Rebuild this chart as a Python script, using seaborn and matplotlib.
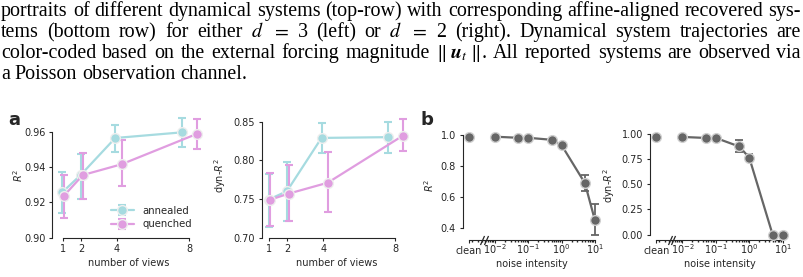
import matplotlib
matplotlib.use("Agg")
import matplotlib.pyplot as plt
import matplotlib.transforms as mtransforms
import numpy as np
import seaborn as sns

# -----------------------------
# data
# -----------------------------
caption_lines = [
    "portraits of different dynamical systems (top-row) with corresponding affine-aligned recovered sys-",
    "tems (bottom row) for either $d$ $=$ 3 (left) or $d$ $=$ 2 (right).  Dynamical system trajectories are",
    r"color-coded based on the external forcing magnitude $\|\;\boldsymbol{u}_t\;\|$. All reported systems are observed via",
    "a Poisson observation channel.",
]

views = [1, 2, 4, 8]
# small horizontal jitter used in the original so the two series don't overlap
jitter_annealed = [-0.04, -0.02, -0.1, -0.4]
jitter_quenched = [0.05, 0.1, 0.25, 0.42]

r2_annealed = [0.9256, 0.9354, 0.9564, 0.9596]
r2_annealed_lo = [0.914, 0.922, 0.9487, 0.9513]
r2_annealed_hi = [0.937, 0.9474, 0.964, 0.9678]
r2_quenched = [0.9236, 0.9354, 0.9415, 0.9587]
r2_quenched_lo = [0.9113, 0.922, 0.929, 0.950]
r2_quenched_hi = [0.9354, 0.948, 0.955, 0.9669]

dyn_annealed = [0.749, 0.760, 0.829, 0.830]
dyn_annealed_lo = [0.713, 0.721, 0.809, 0.810]
dyn_annealed_hi = [0.782, 0.798, 0.848, 0.849]
dyn_quenched = [0.749, 0.757, 0.771, 0.832]
dyn_quenched_lo = [0.715, 0.722, 0.733, 0.812]
dyn_quenched_hi = [0.783, 0.794, 0.811, 0.853]

noise = [0.01, 0.05, 0.1, 0.5, 1, 5, 10]
clean_pos = 10 ** -2.78  # where the "clean" condition sits on the log axis
break_pos = 10 ** -2.33  # axis break mark between clean and noise levels

r2_clean = 0.99
r2_noise = [0.99, 0.983, 0.983, 0.97, 0.935, 0.69, 0.45]
r2_noise_lo = [0.985, 0.978, 0.978, 0.962, 0.925, 0.64, 0.357]
r2_noise_hi = [0.995, 0.988, 0.988, 0.978, 0.945, 0.74, 0.552]

dyn_clean = 0.97
dyn_noise = [0.97, 0.96, 0.96, 0.875, 0.765, 0.0, 0.0]
dyn_noise_lo = [0.96, 0.95, 0.95, 0.825, 0.73, 0.0, 0.0]
dyn_noise_hi = [0.98, 0.97, 0.97, 0.935, 0.805, 0.0, 0.0]

c_annealed = "#a6dbe0"
c_quenched = "#e09de0"
c_noise = "#666666"

# -----------------------------
# style
# -----------------------------
sns.set_theme(style="ticks")
plt.rcParams.update({
    "font.family": ["DejaVu Sans"],
    "font.size": 7,
    "axes.labelsize": 7,
    "xtick.labelsize": 7,
    "ytick.labelsize": 7,
    "xtick.major.size": 2.4,
    "ytick.major.size": 2.4,
    "xtick.minor.size": 1.5,
    "xtick.major.pad": 2.5,
    "ytick.major.pad": 2.5,
    "xtick.major.width": 0.8,
    "ytick.major.width": 0.8,
    "axes.linewidth": 0.8,
    "axes.edgecolor": "0.15",
})

W, H = 804, 277
fig = plt.figure(figsize=(W / 100, H / 100), dpi=100)


def px_axes(left, top, right, bottom):
    return fig.add_axes([left / W, 1 - bottom / H, (right - left) / W, (bottom - top) / H])


ax_a1 = px_axes(52.5, 114, 204.5, 237.5)
ax_a2 = px_axes(261.7, 114, 410.7, 237.5)
ax_b1 = px_axes(462.7, 131, 601.2, 239.5)
ax_b2 = px_axes(650, 131, 789, 239.5)


# -----------------------------
# panel a
# -----------------------------
def views_panel(ax, series, xlim, ylim, yticks, ylabel, label_x, legend=False):
    handles = []
    for y, lo, hi, jit, color, name in series:
        x = np.array(views) + np.array(jit)
        y = np.array(y)
        yerr = [y - np.array(lo), np.array(hi) - y]
        eb = ax.errorbar(x, y, yerr=yerr, fmt="none", ecolor=color,
                         elinewidth=1.5, capsize=3.2, capthick=1.5, zorder=2)
        sns.lineplot(x=x, y=y, ax=ax, color=color, lw=1.6, marker="o",
                     markersize=7, markeredgecolor="#eeeeee",
                     markeredgewidth=1, zorder=3)
        line = ax.lines[-1]
        handles.append(((eb, line), name))
    ax.set_xlim(*xlim)
    ax.set_ylim(*ylim)
    ax.set_xticks(views)
    ax.set_yticks(yticks)
    ax.set_xlabel("number of views", labelpad=2.5)
    ax.set_ylabel(ylabel)
    ax.yaxis.set_label_coords(label_x, 0.5)
    sns.despine(ax=ax, trim=True)
    if legend:
        ax.legend([h for h, _ in handles], [n for _, n in handles],
                  loc="lower right", frameon=False, fontsize=7.3,
                  handlelength=2.3, borderaxespad=0.4, labelspacing=0.35,
                  bbox_to_anchor=(0.97, 0.0))


views_panel(ax_a1, [
    (r2_annealed, r2_annealed_lo, r2_annealed_hi, jitter_annealed, c_annealed, "annealed"),
    (r2_quenched, r2_quenched_lo, r2_quenched_hi, jitter_quenched, c_quenched, "quenched"),
], (0.42, 8.85), (0.90, 0.97), [0.90, 0.92, 0.94, 0.96], "$R^2$", -0.18, legend=True)

views_panel(ax_a2, [
    (dyn_annealed, dyn_annealed_lo, dyn_annealed_hi, jitter_annealed, c_annealed, "annealed"),
    (dyn_quenched, dyn_quenched_lo, dyn_quenched_hi, jitter_quenched, c_quenched, "quenched"),
], (0.58, 8.85), (0.70, 0.86), [0.70, 0.75, 0.80, 0.85], "dyn-$R^2$", -0.225)


# -----------------------------
# panel b
# -----------------------------
def noise_panel(ax, clean, y, lo, hi, yticks, ylabel, label_x):
    y = np.array(y)
    ax.set_xscale("log")
    ax.errorbar(noise, y, yerr=[y - np.array(lo), np.array(hi) - y], fmt="none",
                ecolor=c_noise, elinewidth=1.3, capsize=3.2, capthick=1.3, zorder=2)
    sns.lineplot(x=noise, y=y, ax=ax, color=c_noise, lw=1.6, marker="o",
                 markersize=7, markeredgecolor="#d0d0d0", markeredgewidth=1, zorder=3)
    sns.scatterplot(x=[clean_pos], y=[clean], ax=ax, color=c_noise, s=49,
                    edgecolor="#d0d0d0", linewidth=1, zorder=3)
    ax.set_xticks([clean_pos, 1e-2, 1e-1, 1, 10])
    ax.set_xticklabels(["clean", "$10^{-2}$", "$10^{-1}$", "$10^{0}$", "$10^{1}$"])
    for lab in ax.get_xticklabels():
        lab.set_verticalalignment("baseline")
    ax.tick_params(axis="x", which="major", pad=8.0)
    ax.set_yticks(yticks)
    ax.set_xlabel("noise intensity", labelpad=2.5)
    ax.set_ylabel(ylabel)
    ax.yaxis.set_label_coords(label_x, 0.5)
    sns.despine(ax=ax, trim=True)
    # axis break "//" between "clean" and the noise levels
    trans = mtransforms.blended_transform_factory(ax.transData, ax.transAxes)
    for dx in (-1.8, 1.8):
        off = mtransforms.offset_copy(trans, fig=fig, x=dx, y=0, units="dots")
        ax.plot([break_pos], [0], linestyle="none", marker=[(-0.45, -1), (0.45, 1)],
                markersize=6.5, markeredgewidth=0.9, color="0.15",
                transform=off, clip_on=False)


noise_panel(ax_b1, r2_clean, r2_noise, r2_noise_lo, r2_noise_hi,
            [0.4, 0.6, 0.8, 1.0], "$R^2$", -0.195)
noise_panel(ax_b2, dyn_clean, dyn_noise, dyn_noise_lo, dyn_noise_hi,
            [0.0, 0.25, 0.5, 0.75, 1.0], "dyn-$R^2$", -0.24)

# panel letters
fig.text(8 / W, 1 - 120 / H, "a", fontsize=13, fontweight="bold", va="center")
fig.text(421 / W, 1 - 120 / H, "b", fontsize=13, fontweight="bold", va="center")

# -----------------------------
# caption above the panels (justified)
# -----------------------------
renderer = fig.canvas.get_renderer()
x_left, x_right = 1, 801
baselines = [16, 37, 58, 79]

# pick the font size so the first line fills the width with normal word spacing
probe_size = 12.0
probe = [fig.text(0, 0, w, fontsize=probe_size, family=["Liberation Serif"])
         for w in caption_lines[0].split()]
probe_w = sum(p.get_window_extent(renderer).width for p in probe)
for p in probe:
    p.remove()
n_gaps = len(probe) - 1
cap_size = (x_right - x_left) / (probe_w / probe_size + n_gaps * 0.25 * 100 / 72)

cap_kw = dict(fontsize=cap_size, family=["Liberation Serif"], math_fontfamily="stix",
              va="baseline", ha="left", color="black")
for i, (text, base) in enumerate(zip(caption_lines, baselines)):
    words = text.split()
    arts = [fig.text(0, 1 - base / H, w, **cap_kw) for w in words]
    widths = [a.get_window_extent(renderer).width for a in arts]
    if i == len(caption_lines) - 1:
        gap = 0.25 * cap_size * 100 / 72
    else:
        gap = (x_right - x_left - sum(widths)) / (len(words) - 1)
    x = x_left
    for a, w in zip(arts, widths):
        a.set_x(x / W)
        x += w + gap

fig.savefig("out.png", dpi=100)
